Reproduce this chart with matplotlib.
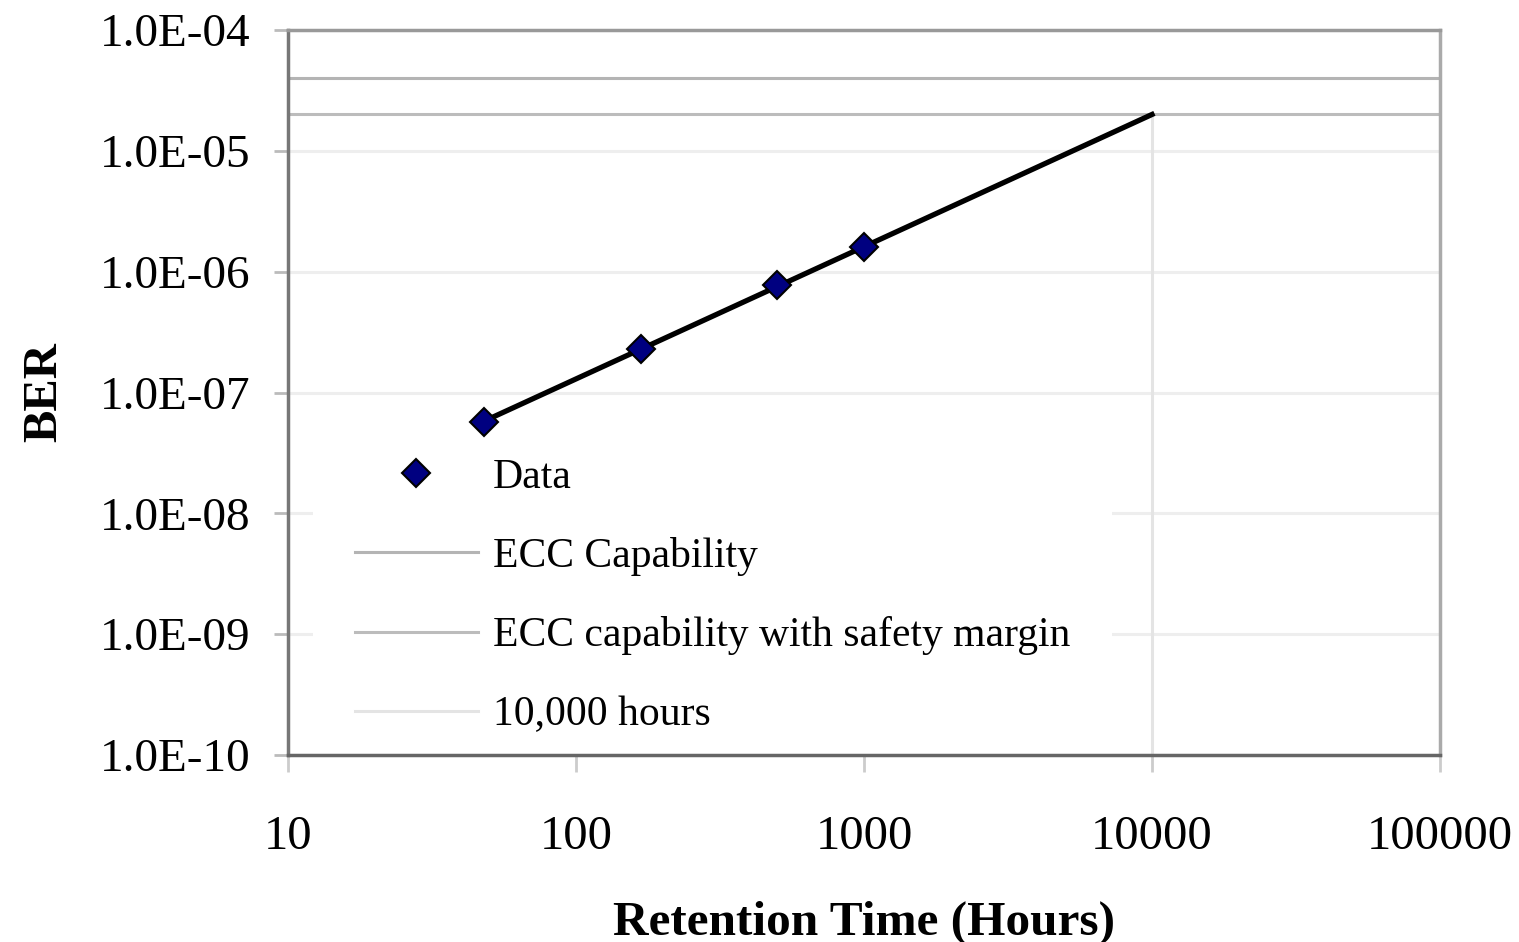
import matplotlib
matplotlib.use("Agg")
import matplotlib.pyplot as plt
from matplotlib.ticker import FixedLocator, FuncFormatter, NullLocator

# measured retention data
hours = [48, 168, 500, 1000]
ber = [5.7e-8, 2.3e-7, 7.7e-7, 1.6e-6]

# power-law trend line end points
trend_hours = [48, 10000]
trend_ber = [5.8e-8, 2.0e-5]

# reference lines
ecc_x = [10, 100000]
ecc_capability = [4.0e-5, 4.0e-5]
ecc_margin = [2.0e-5, 2.0e-5]
target_hours = [10000, 10000]
target_ber = [1e-10, 2.0e-5]

x_ticks = [10, 100, 1000, 10000, 100000]
y_ticks = [1e-10, 1e-9, 1e-8, 1e-7, 1e-6, 1e-5, 1e-4]

plt.rcParams['font.family'] = ['Liberation Serif', 'DejaVu Serif']

fig = plt.figure(figsize=(15.19, 9.42), dpi=100)
ax = fig.add_axes([288 / 1519, 187 / 942, 1152 / 1519, 725 / 942])
ax.set_xscale('log')
ax.set_yscale('log')
ax.set_xlim(10, 100000)
ax.set_ylim(1e-10, 1e-4)

for y in y_ticks:
    ax.axhline(y, color='#eeeeee', lw=2.2, zorder=0)

ecc1, = ax.plot(ecc_x, ecc_capability, color='#b4b4b4', lw=2.2, zorder=2,
                label='ECC Capability')
ecc2, = ax.plot(ecc_x, ecc_margin, color='#bcbcbc', lw=2.2, zorder=2,
                label='ECC capability with safety margin')
tgt, = ax.plot(target_hours, target_ber, color='#e4e4e4', lw=2.2, zorder=2,
               label='10,000 hours')
ax.plot(trend_hours, trend_ber, color='black', lw=3.8, zorder=6)
pts, = ax.plot(hours, ber, linestyle='none', marker='D', markersize=14,
               markerfacecolor='#000080', markeredgecolor='black',
               markeredgewidth=1.5, zorder=7, label='Data')

ax.xaxis.set_major_locator(FixedLocator(x_ticks))
ax.xaxis.set_minor_locator(NullLocator())
ax.yaxis.set_major_locator(FixedLocator(y_ticks))
ax.yaxis.set_minor_locator(NullLocator())
ax.xaxis.set_major_formatter(FuncFormatter(lambda v, p: f"{v:.0f}"))
ax.yaxis.set_major_formatter(FuncFormatter(lambda v, p: f"{v:.1E}"))

ax.tick_params(axis='y', length=10, width=2, color='#bbbbbb', pad=17,
               labelsize=34)
ax.tick_params(axis='x', length=12, width=2, color='#cccccc', pad=31,
               labelsize=35)
ax.xaxis.set_zorder(8)
ax.yaxis.set_zorder(8)

ax.spines['left'].set_color('#777777')
ax.spines['bottom'].set_color('#666666')
ax.spines['top'].set_color('#999999')
ax.spines['right'].set_color('#aaaaaa')
for s in ax.spines.values():
    s.set_linewidth(2.5)
    s.set_zorder(9)

ax.set_ylabel('BER', fontsize=35, fontweight='bold', labelpad=24)
ax.set_xlabel('Retention Time (Hours)', fontsize=35.5, fontweight='bold',
              labelpad=30)

leg = ax.legend(handles=[pts, ecc1, ecc2, tgt], loc='upper left',
                bbox_to_anchor=(0.0217, 0.0, 0.694, 0.467), mode='expand',
                borderaxespad=0, fontsize=30, frameon=True, fancybox=False,
                handlelength=2.95, handletextpad=0.36, labelspacing=0.97,
                borderpad=1.0, numpoints=1)
leg.get_frame().set_facecolor('white')
leg.get_frame().set_edgecolor('none')
leg.get_frame().set_alpha(1)
leg.set_zorder(5)

fig.savefig('out.png', dpi=100)
